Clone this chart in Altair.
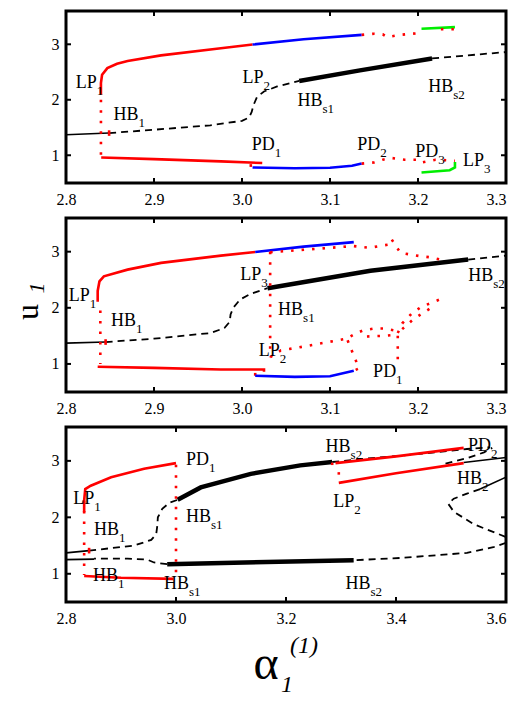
import altair as alt
import pandas as pd

# ---------------- data ----------------
# each branch: (style, alpha values, u values)
p1_branches = [
    ("thin",  [2.80, 2.849], [1.37, 1.40]),
    ("dash",  [2.849, 2.90, 2.964, 3.0, 3.008, 3.011, 3.013, 3.017, 3.025, 3.04, 3.065],
              [1.40, 1.46, 1.54, 1.62, 1.68, 1.78, 1.90, 2.05, 2.15, 2.24, 2.34]),
    ("thick", [3.065, 3.134, 3.216], [2.34, 2.53, 2.745]),
    ("dash",  [3.216, 3.30], [2.745, 2.86]),
    ("red",   [2.8397, 2.8397, 2.841, 2.847, 2.858, 2.870, 2.908, 2.976, 3.012],
              [2.09, 2.30, 2.45, 2.57, 2.65, 2.70, 2.80, 2.93, 2.995]),
    ("blue",  [3.012, 3.07, 3.136], [2.995, 3.09, 3.17]),
    ("dot",   [3.136, 3.15, 3.16, 3.165, 3.18, 3.20, 3.204], [3.17, 3.19, 3.18, 3.13, 3.17, 3.20, 3.25]),
    ("green", [3.204, 3.242], [3.28, 3.31]),
    ("dot",   [3.226, 3.246], [3.27, 3.27]),
    ("dot",   [2.8397, 2.8397], [2.0, 1.0]),
    ("red",   [2.849, 2.849], [1.35, 1.45]),
    ("red",   [2.840, 2.90, 2.976, 3.023], [0.96, 0.93, 0.89, 0.86]),
    ("red",   [3.010, 3.010], [0.84, 0.79]),
    ("blue",  [3.012, 3.06, 3.10, 3.125, 3.136], [0.78, 0.765, 0.775, 0.81, 0.85]),
    ("dot",   [3.136, 3.15, 3.16, 3.17, 3.185, 3.20, 3.204, 3.22, 3.242],
              [0.85, 0.87, 0.92, 0.95, 0.92, 0.92, 0.87, 0.92, 0.90]),
    ("green", [3.204, 3.236, 3.242, 3.242], [0.69, 0.73, 0.78, 0.88]),
]

p2_branches = [
    ("thin",  [2.80, 2.845], [1.37, 1.39]),
    ("dash",  [2.845, 2.90, 2.964, 2.980, 2.986, 2.987, 2.990, 2.998, 3.01, 3.029],
              [1.39, 1.45, 1.55, 1.64, 1.75, 1.88, 2.0, 2.15, 2.25, 2.35]),
    ("thick", [3.029, 3.146, 3.257], [2.35, 2.66, 2.86]),
    ("dash",  [3.257, 3.30], [2.86, 2.93]),
    ("red",   [2.836, 2.836, 2.838, 2.843, 2.870, 2.908, 2.976, 3.015],
              [2.11, 2.30, 2.47, 2.56, 2.68, 2.80, 2.93, 2.995]),
    ("blue",  [3.015, 3.07, 3.127], [2.995, 3.09, 3.17]),
    ("dot",   [3.032, 3.127, 3.145, 3.156, 3.168, 3.170, 3.18, 3.191, 3.2025, 3.214, 3.225],
              [2.99, 3.10, 3.07, 3.10, 3.13, 3.22, 2.98, 2.95, 2.92, 2.90, 2.86]),
    ("dot",   [3.032, 3.032], [3.0, 1.12]),
    ("dot",   [3.032, 3.044, 3.063, 3.119, 3.129, 3.138, 3.15, 3.161, 3.172, 3.177, 3.177],
              [1.12, 1.24, 1.29, 1.45, 1.54, 1.60, 1.63, 1.63, 1.60, 1.55, 1.06]),
    ("dot",   [3.142, 3.16, 3.175], [1.49, 1.50, 1.52]),
    ("dot",   [3.177, 3.182, 3.193, 3.204, 3.214, 3.225], [1.55, 1.72, 1.90, 2.02, 2.08, 2.15]),
    ("dot",   [3.182, 3.195, 3.21, 3.22], [1.62, 1.80, 1.95, 2.05]),
    ("dot",   [3.12, 3.127, 3.133, 3.127], [1.42, 1.15, 0.92, 0.88]),
    ("dot",   [2.839, 2.839], [1.95, 1.0]),
    ("red",   [2.845, 2.845], [1.34, 1.44]),
    ("red",   [2.836, 2.90, 2.976, 3.025, 3.025], [0.95, 0.93, 0.90, 0.90, 0.86]),
    ("red",   [3.015, 3.015], [0.79, 0.84]),
    ("blue",  [3.015, 3.06, 3.10, 3.127], [0.79, 0.77, 0.78, 0.88]),
]

p3_branches = [
    ("thin",  [2.80, 2.842], [1.37, 1.41]),
    ("dash",  [2.842, 2.924, 2.955, 2.964, 2.966, 2.967, 2.975, 2.988, 3.003],
              [1.41, 1.50, 1.60, 1.70, 1.85, 2.0, 2.15, 2.26, 2.31]),
    ("thick", [3.003, 3.045, 3.136, 3.226, 3.284], [2.31, 2.53, 2.77, 2.92, 2.98]),
    ("dash",  [3.284, 3.347, 3.408, 3.529, 3.571], [2.98, 3.04, 3.09, 3.21, 3.24]),
    ("dash",  [3.49, 3.53, 3.56, 3.575], [2.95, 3.05, 3.15, 3.23]),
    ("thin",  [3.523, 3.60], [2.97, 3.06]),
    ("thin",  [3.553, 3.60], [2.50, 2.71]),
    ("dash",  [3.553, 3.529, 3.505, 3.495, 3.505, 3.541, 3.60], [2.50, 2.42, 2.33, 2.24, 2.10, 1.88, 1.65]),
    ("dash",  [3.60, 3.577, 3.529, 3.408, 3.323], [1.55, 1.47, 1.37, 1.28, 1.24]),
    ("thick", [3.323, 2.984], [1.24, 1.17]),
    ("dash",  [2.984, 2.96, 2.948, 2.912, 2.851], [1.17, 1.20, 1.25, 1.27, 1.27]),
    ("thin",  [2.80, 2.851], [1.25, 1.26]),
    ("red",   [2.833, 2.833, 2.835, 2.845, 2.882, 2.942, 3.0], [2.09, 2.30, 2.50, 2.56, 2.71, 2.86, 2.96]),
    ("dot",   [2.833, 2.833], [2.30, 0.98]),
    ("red",   [2.842, 2.842], [1.36, 1.46]),
    ("dot",   [3.0, 3.0], [2.93, 0.90]),
    ("red",   [2.833, 2.90, 2.995], [0.96, 0.93, 0.91]),
    ("red",   [3.290, 3.40, 3.523], [2.96, 3.08, 3.23]),
    ("red",   [3.296, 3.40, 3.523], [2.61, 2.78, 2.96]),
    ("dot",   [3.284, 3.284], [2.97, 2.82]),
    ("dot",   [3.296, 3.296], [2.80, 2.62]),
]

# labels: (main, subscript, alpha, u) -- left/baseline anchor of the main text
p1_labels = [("LP", "1", 2.811, 2.21), ("HB", "1", 2.854, 1.64), ("LP", "2", 3.0007, 2.30),
             ("HB", "s1", 3.063, 1.89), ("HB", "s2", 3.2116, 2.14), ("PD", "1", 3.011, 1.09),
             ("PD", "2", 3.131, 1.09), ("PD", "3", 3.197, 0.96), ("LP", "3", 3.251, 0.80)]
p2_labels = [("LP", "1", 2.803, 2.12), ("HB", "1", 2.851, 1.67), ("LP", "3", 2.998, 2.50),
             ("HB", "s1", 3.041, 1.87), ("LP", "2", 3.019, 1.15), ("PD", "1", 3.149, 0.77),
             ("HB", "s2", 3.257, 2.48)]
p3_labels = [("LP", "1", 2.813, 2.24), ("PD", "1", 3.018, 2.92), ("HB", "s1", 3.018, 1.92),
             ("HB", "1", 2.851, 1.68), ("HB", "1", 2.849, 0.88), ("HB", "s1", 2.978, 0.73),
             ("HB", "s2", 3.272, 3.15), ("LP", "2", 3.286, 2.19), ("HB", "s2", 3.308, 0.73),
             ("PD", "2", 3.531, 3.18), ("HB", "2", 3.511, 2.59)]

x_ticks_a = [2.8, 2.9, 3.0, 3.1, 3.2, 3.3]
x_ticks_b = [2.8, 3.0, 3.2, 3.4, 3.6]
y_ticks = [1, 2, 3]
y_title_main, y_title_sub = "u", "1"
x_title_main, x_title_sub, x_title_sup = "α", "1", "(1)"

# ---------------- styling ----------------
FONT = "Liberation Serif"
styles = {
    "thin":  dict(color="black", strokeWidth=1.6),
    "dash":  dict(color="black", strokeWidth=1.8, strokeDash=[7, 5]),
    "thick": dict(color="black", strokeWidth=4.5),
    "red":   dict(color="#ff0000", strokeWidth=2.6),
    "blue":  dict(color="#0000ff", strokeWidth=2.6),
    "green": dict(color="#00ee00", strokeWidth=2.6),
    "dot":   dict(color="#ff0000", strokeWidth=2.6, strokeDash=[2.5, 8]),
}
sub_dx = {"LP": 21, "HB": 25, "PD": 23}

W = 440
TICK = 5


def branches_df(branches):
    rows = []
    for i, (st, xs, ys) in enumerate(branches):
        for j, (a, u) in enumerate(zip(xs, ys)):
            rows.append({"a": a, "u": u, "style": st, "seg": i, "ord": j})
    return pd.DataFrame(rows)


def panel(branches, labels, xdom, xticks, h, extra=None):
    df = branches_df(branches)
    ldf = pd.DataFrame(labels, columns=["main", "sub", "a", "u"])
    xt = pd.DataFrame({"a": xticks})
    yt = pd.DataFrame({"u": y_ticks})
    last = xdom[1] - 0.001
    xenc = alt.X("a:Q", scale=alt.Scale(domain=xdom, nice=False, zero=False),
                 axis=alt.Axis(values=xticks, format=".1f", title=None, grid=False, ticks=False,
                               domain=False, labelFont=FONT, labelFontSize=16, labelColor="black",
                               labelPadding=8, labelFlush=False, labelOverlap=False,
                               labelAlign=alt.expr(f"datum.value >= {last} ? 'right' : 'center'")))
    yenc = alt.Y("u:Q", scale=alt.Scale(domain=[0.5, 3.6], nice=False, zero=False),
                 axis=alt.Axis(values=y_ticks, format="d", title=None, grid=False, ticks=False,
                               domain=False, labelFont=FONT, labelFontSize=16, labelColor="black",
                               labelPadding=7, labelFlush=False, labelOverlap=False))
    layers = []
    for st in ["dash", "thin", "thick", "red", "blue", "green", "dot"]:
        if st not in set(df["style"]):
            continue
        layers.append(
            alt.Chart(df).transform_filter(alt.datum.style == st)
            .mark_line(clip=True, strokeCap="butt", **styles[st])
            .encode(x=xenc, y=yenc, detail="seg:N", order="ord:Q")
        )
    # inward tick marks on the frame
    for y0, y1 in ((0, TICK), (h - TICK, h)):
        layers.append(alt.Chart(xt).mark_rule(strokeWidth=2, color="black")
                      .encode(x=xenc, y=alt.value(y0), y2=alt.value(y1)))
    for x0, x1 in ((0, TICK), (W - TICK, W)):
        layers.append(alt.Chart(yt).mark_rule(strokeWidth=2, color="black")
                      .encode(y=yenc, x=alt.value(x0), x2=alt.value(x1)))
    layers.append(
        alt.Chart(ldf).mark_text(align="left", baseline="alphabetic", font=FONT, fontSize=18, color="black")
        .encode(x=xenc, y=yenc, text="main:N")
    )
    for m, dx in sub_dx.items():
        layers.append(
            alt.Chart(ldf).transform_filter(alt.datum.main == m)
            .mark_text(align="left", baseline="alphabetic", font=FONT, fontSize=13, color="black", dx=dx, dy=7)
            .encode(x=xenc, y=yenc, text="sub:N")
        )
    if extra:
        layers.extend(extra)
    return alt.layer(*layers).properties(width=W, height=h)


ytitle = [
    alt.Chart(pd.DataFrame({"t": [y_title_main]})).mark_text(
        font=FONT, fontSize=32, angle=270, align="center", baseline="middle", color="black")
    .encode(x=alt.value(-38), y=alt.value(94), text="t:N"),
    alt.Chart(pd.DataFrame({"t": [y_title_sub]})).mark_text(
        font=FONT, fontSize=22, fontStyle="italic", angle=270, align="center", baseline="middle", color="black")
    .encode(x=alt.value(-29), y=alt.value(70), text="t:N"),
]
xtitle = [
    alt.Chart(pd.DataFrame({"t": [x_title_main]})).mark_text(
        font=FONT, fontSize=48, align="center", baseline="middle", color="black")
    .encode(x=alt.value(200), y=alt.value(238), text="t:N"),
    alt.Chart(pd.DataFrame({"t": [x_title_sub]})).mark_text(
        font=FONT, fontSize=24, fontStyle="italic", align="center", baseline="middle", color="black")
    .encode(x=alt.value(221), y=alt.value(258), text="t:N"),
    alt.Chart(pd.DataFrame({"t": [x_title_sup]})).mark_text(
        font=FONT, fontSize=24, fontStyle="italic", align="center", baseline="middle", color="black")
    .encode(x=alt.value(238), y=alt.value(219), text="t:N"),
]

p1 = panel(p1_branches, p1_labels, [2.8, 3.3], x_ticks_a, 172)
p2 = panel(p2_branches, p2_labels, [2.8, 3.3], x_ticks_a, 174, extra=ytitle)
p3 = panel(p3_branches, p3_labels, [2.8, 3.6], x_ticks_b, 175, extra=xtitle)

chart = (
    alt.vconcat(p1, p2, p3, spacing=35, bounds="flush", background="white")
    .properties(padding={"left": 2, "top": 0, "right": 0, "bottom": 0})
    .configure_view(stroke="black", strokeWidth=3)
)

chart.save("out.html", embed_options={"renderer": "svg", "actions": False})
